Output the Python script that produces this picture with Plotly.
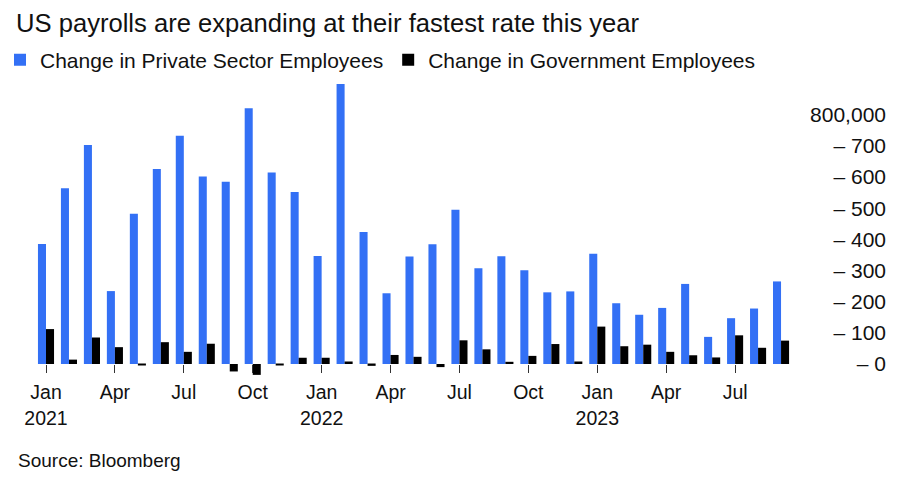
import plotly.graph_objects as go

months = ["Jan 2021","Feb 2021","Mar 2021","Apr 2021","May 2021","Jun 2021","Jul 2021","Aug 2021","Sep 2021","Oct 2021","Nov 2021","Dec 2021",
          "Jan 2022","Feb 2022","Mar 2022","Apr 2022","May 2022","Jun 2022","Jul 2022","Aug 2022","Sep 2022","Oct 2022","Nov 2022","Dec 2022",
          "Jan 2023","Feb 2023","Mar 2023","Apr 2023","May 2023","Jun 2023","Jul 2023","Aug 2023","Sep 2023"]
private = [385000, 564000, 703000, 234000, 482000, 626000, 733000, 602000, 585000, 821000, 615000, 552000,
           347000, 899000, 424000, 227000, 345000, 384000, 495000, 307000, 346000, 301000, 230000, 233000,
           354000, 195000, 158000, 180000, 257000, 87000, 147000, 178000, 265000]
government = [112000, 14000, 85000, 54000, -3000, 70000, 39000, 65000, -24000, -35000, -3000, 20000,
              20000, 8000, -6000, 29000, 23000, -10000, 76000, 47000, 7000, 26000, 64000, 8000,
              120000, 57000, 62000, 39000, 28000, 21000, 92000, 52000, 75000]
x_ticktext = ["Jan<br>2021", "Apr", "Jul", "Oct", "Jan<br>2022", "Apr", "Jul", "Oct", "Jan<br>2023", "Apr", "Jul"]
y_tickvals = [0, 100000, 200000, 300000, 400000, 500000, 600000, 700000, 800000]
y_ticktext = ["– 0", "– 100", "– 200", "– 300", "– 400", "– 500", "– 600", "– 700", "800,000"]

idx = list(range(len(months)))
FONT = "Liberation Sans, Arial, sans-serif"
TXT = "#111111"

fig = go.Figure()
fig.add_trace(go.Bar(x=idx, y=private, name="Change in Private Sector Employees",
                     marker=dict(color="#3370F5", line=dict(width=0))))
fig.add_trace(go.Bar(x=idx, y=government, name="Change in Government Employees",
                     marker=dict(color="#000000", line=dict(width=0))))

ymin, ymax = -45000, 910000
R = 14
fig.update_layout(
    width=903, height=495,
    paper_bgcolor="white", plot_bgcolor="white",
    font=dict(family=FONT, color=TXT),
    margin=dict(l=0, r=R, t=74, b=117),
    barmode="group", bargap=0.3, bargroupgap=0,
    title=dict(text="US payrolls are expanding at their fastest rate this year",
               x=16/903, xanchor="left", xref="container",
               y=1-23/495, yanchor="middle", yref="container",
               font=dict(size=25.6, family=FONT, color=TXT)),
    legend=dict(orientation="h", x=0/903, xref="container", y=1-60/495, yref="container",
                yanchor="middle", xanchor="left", font=dict(size=21, family=FONT, color=TXT),
                itemwidth=30, tracegroupgap=0, bgcolor="rgba(0,0,0,0)"),
    showlegend=True,
)
fig.update_xaxes(
    range=[-46/22.97, -46/22.97 + (903 - R)/22.97],
    tickvals=[0, 3, 6, 9, 12, 15, 18, 21, 24, 27, 30], ticktext=x_ticktext,
    ticks="outside", ticklen=8, tickwidth=1, tickcolor="#333333",
    showgrid=False, zeroline=False, showline=False,
    anchor="free", position=(0 - ymin) / (ymax - ymin),
    ticklabelstandoff=3,
    tickfont=dict(size=19.5, family=FONT, color=TXT),
)
fig.update_yaxes(
    range=[ymin, ymax], side="right",
    tickvals=y_tickvals, ticktext=y_ticktext, ticklabelposition="inside",
    ticks="", showgrid=False, zeroline=False, showline=False,
    tickfont=dict(size=21, family=FONT, color=TXT),
)
fig.add_annotation(text="Source: Bloomberg", xref="paper", yref="paper",
                   x=16/(903 - R), y=-(462-377.8)/303.7, xanchor="left", yanchor="middle",
                   showarrow=False, font=dict(size=19, family=FONT, color=TXT))
fig.write_html("out.html", config={"displayModeBar": False},
               post_script="document.body.style.margin='0px';")
